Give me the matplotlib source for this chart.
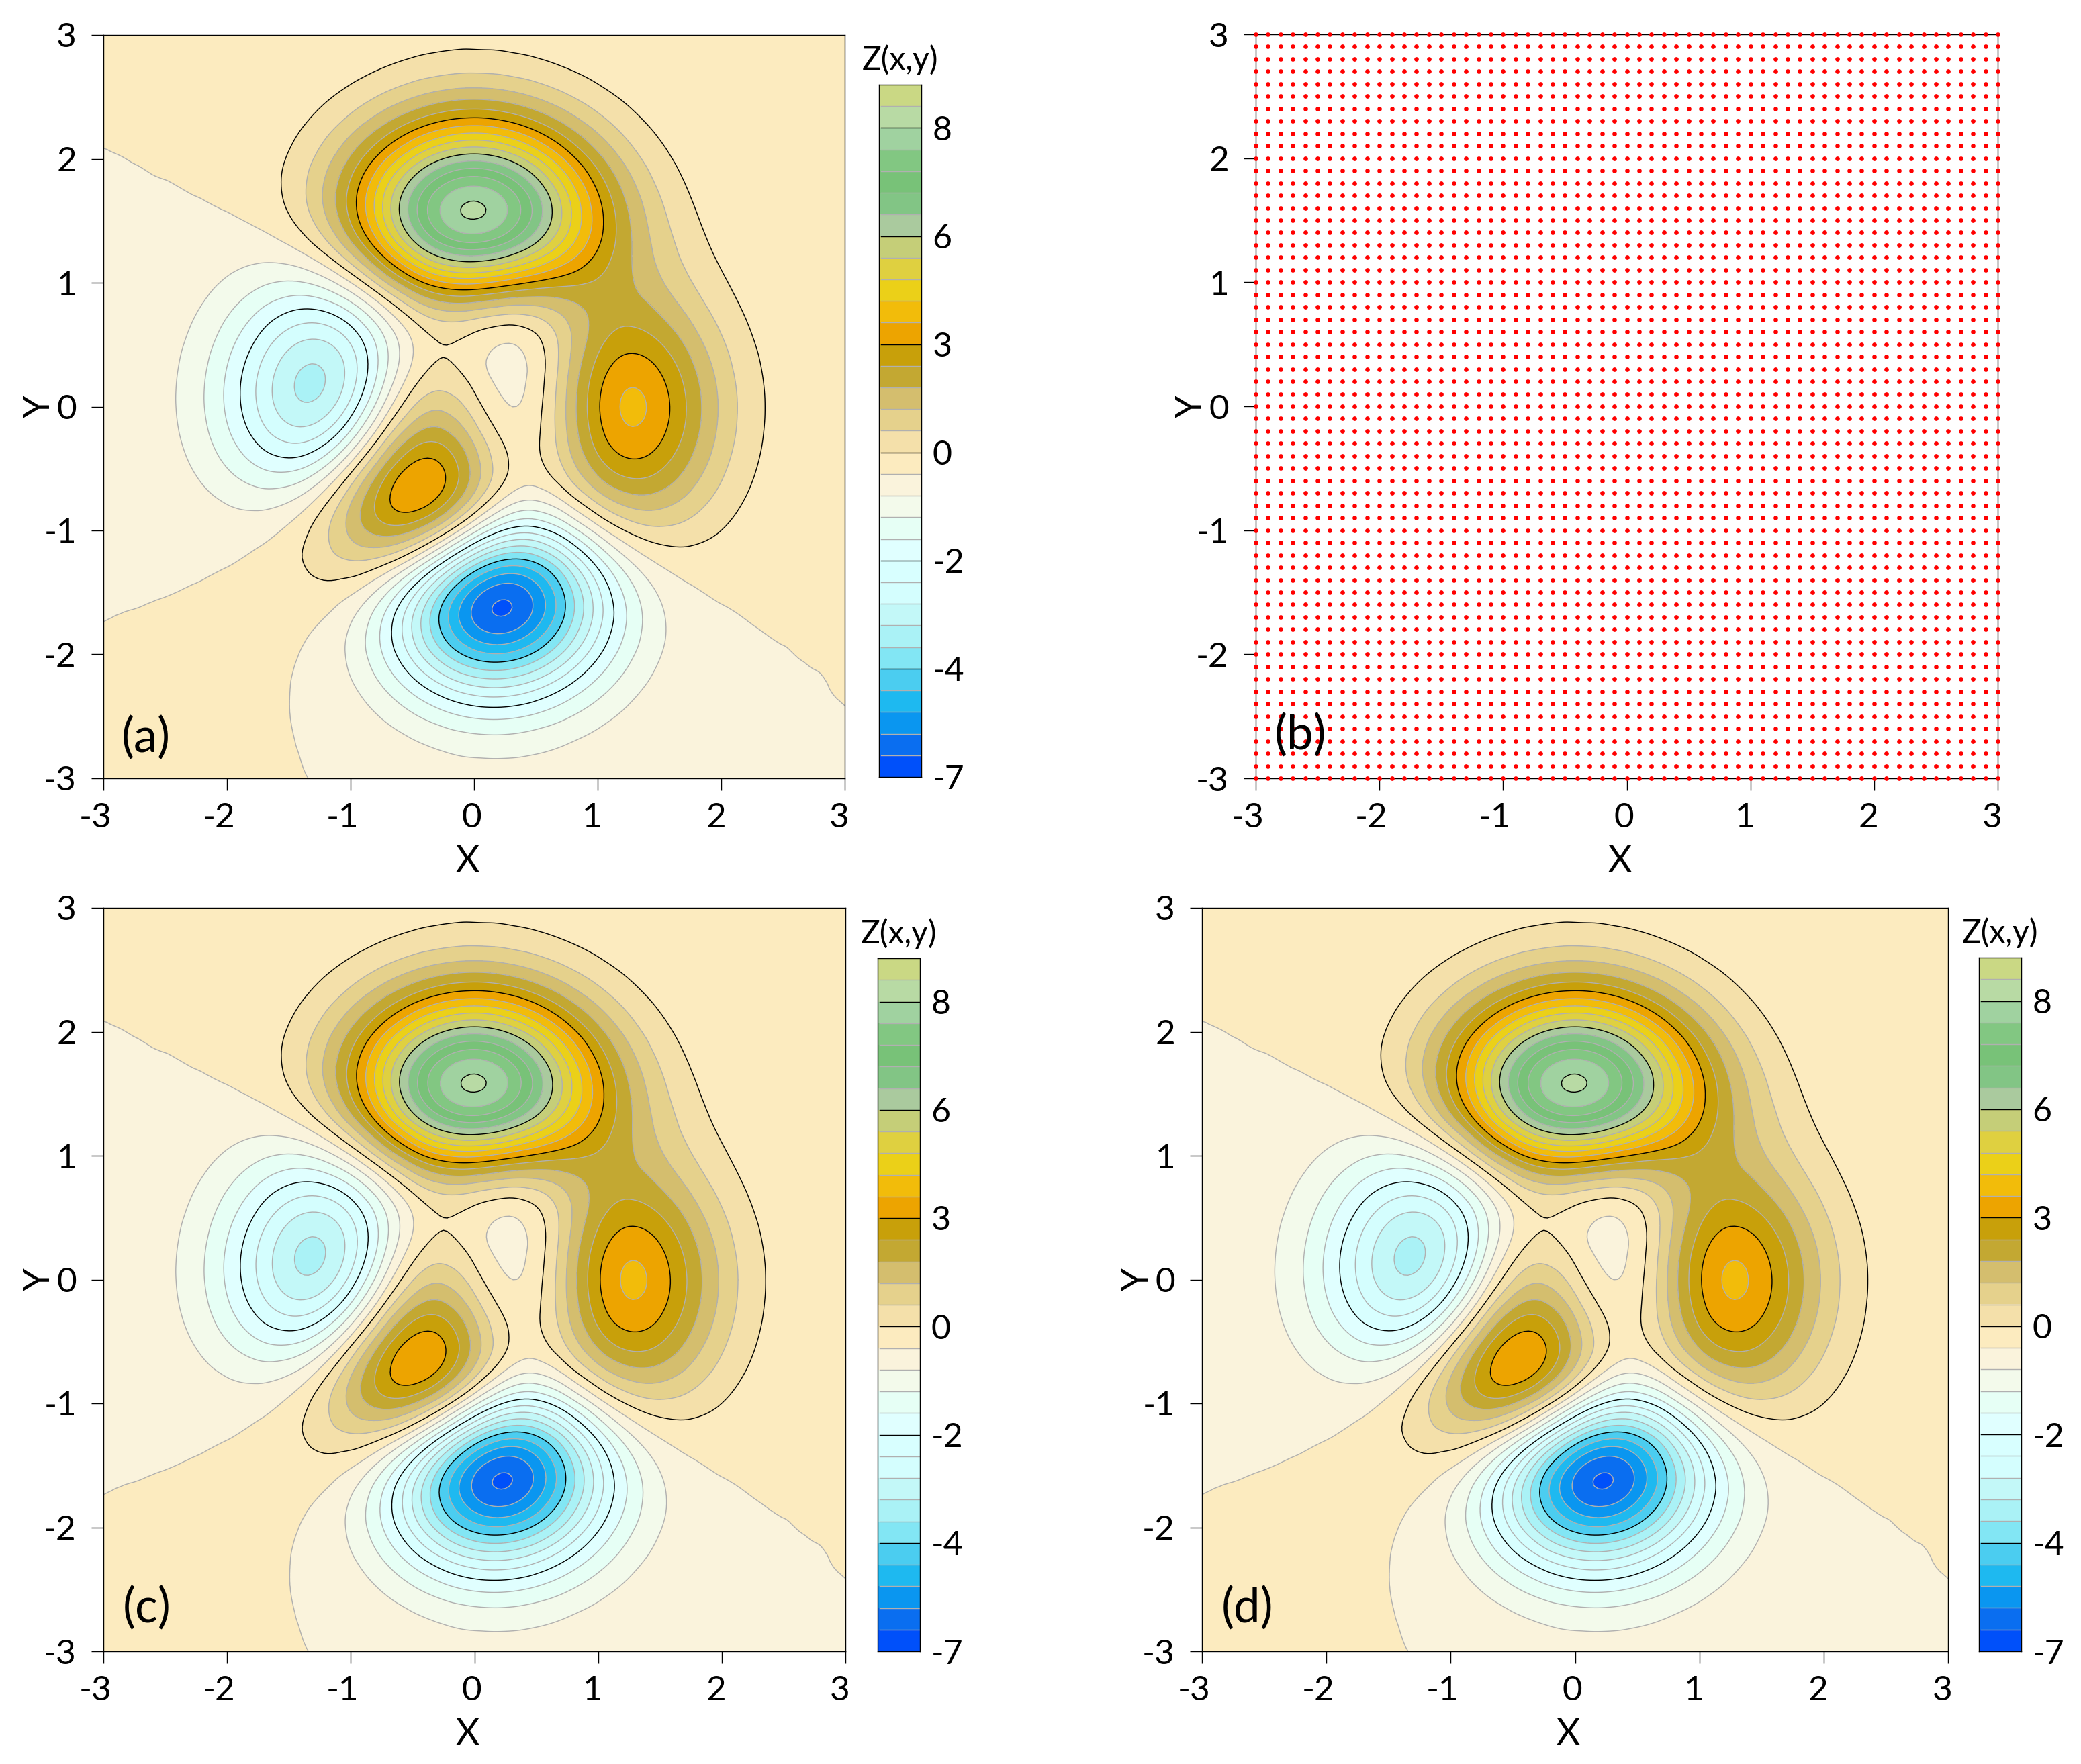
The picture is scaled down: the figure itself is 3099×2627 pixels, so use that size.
# -*- coding: utf-8 -*-
import numpy as np
import matplotlib
matplotlib.use('Agg')
import matplotlib.pyplot as plt
import matplotlib.tri as mtri
from matplotlib.colors import ListedColormap, BoundaryNorm
from matplotlib.transforms import ScaledTranslation

plt.rcParams['font.family'] = ['Lato', 'DejaVu Sans']

'''
1.The data, values of Z on a grid with a 0.25 step
'''
grid_x = [-3, -2.75, -2.5, -2.25, -2, -1.75, -1.5, -1.25, -1, -0.75, -0.5, -0.25, 0,
          0.25, 0.5, 0.75, 1, 1.25, 1.5, 1.75, 2, 2.25, 2.5, 2.75, 3]
grid_y = grid_x

# one row per y, from y=-3 up to y=3
z_rows = [
    [.00007, .00023, .00067, .00167, .00337, .0051, .0042, -.00492, -.0296, -.07478, -.13667, -.20025, -.24409, -.25191, -.22215, -.16822, -.10964, -.06151, -.02966, -.01224, -.0043, -.00126, -.0003, -.00006, -.00001],
    [.00015, .00052, .00153, .00374, .00722, .00984, .00411, -.02493, -.0965, -.22256, -.3917, -.56263, -.67788, -.69457, -.6097, -.46032, -.29942, -.16775, -.08084, -.03335, -.0117, -.00343, -.00082, -.00016, -.00001],
    [.0003, .00104, .00307, .00747, .01421, .01805, .00183, -.06831, -.23576, -.5271, -.91583, -1.30716, -1.56951, -1.60474, -1.4063, -1.05991, -.68784, -.38408, -.18409, -.07532, -.02604, -.00746, -.00171, -.00027, -.00001],
    [.00046, .00173, .0053, .01323, .02564, .0332, .0039, -.12663, -.44278, -.99883, -1.7477, -2.50844, -3.02453, -3.1009, -2.7204, -2.04845, -1.32469, -.73445, -.34774, -.13939, -.04655, -.0125, -.00248, -.00022, .00007],
    [.00052, .00223, .00749, .02016, .04233, .06281, .03547, -.14026, -.60458, -1.45979, -2.64911, -3.89142, -4.76504, -4.9334, -4.34881, -3.27337, -2.10305, -1.14893, -.52941, -.20223, -.06166, -.01349, -.00118, .00065, .00043],
    [.00004, .00138, .00702, .02352, .0589, .10937, .12895, -.00591, -.49236, -1.5067, -3.02738, -4.71261, -5.9828, -6.33168, -5.64029, -4.24213, -2.68684, -1.41962, -.61241, -.20444, -.04417, .00073, .00625, .00367, .00143],
    [-.00175, -.00313, -.0021, .01047, .05308, .14494, .27157, .32601, .07818, -.74591, -2.24195, -4.11591, -5.70636, -6.34069, -5.76918, -4.31921, -2.6364, -1.2714, -.44065, -.06599, .04291, .04545, .02544, .01068, .00362],
    [-.0059, -.01464, -.029, -.04115, -.02141, .08698, .33939, .70417, .96761, .75122, -.24759, -1.92489, -3.65589, -4.63202, -4.41454, -3.2299, -1.74043, -.55692, .0789, .26596, .22622, .13256, .06104, .02325, .00743],
    [-.01324, -.03596, -.08233, -.15461, -.22023, -.18269, .10921, .75295, 1.61102, 2.2233, 2.03365, .85615, -.81431, -2.06699, -2.24822, -1.43697, -.27748, .5793, .88286, .76869, .49969, .26118, .11329, .04163, .01302],
    [-.02359, -.06679, -.16233, -.3342, -.56288, -.72624, -.57696, .13739, 1.40356, 2.72961, 3.33079, 2.72548, 1.25662, -.0846, -.4533, .18569, 1.16914, 1.7842, 1.77723, 1.34574, .82001, .41392, .17592, .06381, .01976],
    [-.03502, -.10151, -.25459, -.54795, -.9898, -1.45356, -1.61767, -1.08386, .27835, 2.00052, 3.14643, 3.0082, 1.80656, .59096, .33496, 1.11411, 2.18827, 2.75508, 2.55827, 1.87454, 1.1224, .5609, .23699, .08562, .02645],
    [-.04438, -.13039, -.33275, -.73329, -1.37151, -2.13215, -2.65163, -2.4242, -1.19138, .64026, 2.07379, 2.26838, 1.35472, .39419, .40966, 1.46643, 2.74417, 3.3683, 3.08656, 2.24523, 1.33874, .66738, .2816, .10166, .03138],
    [-.04865, -.14402, -.37112, -.8284, -1.57784, -2.52246, -3.29323, -3.33817, -2.31832, -.56224, .96055, 1.37306, .7359, .05052, .30429, 1.54111, 2.92478, 3.57826, 3.26782, 2.37169, 1.41215, .70342, .29668, .10707, .03305],
    [-.0465, -.13827, -.35825, -.80542, -1.54932, -2.51346, -3.36144, -3.56687, -2.77493, -1.23492, .1945, .69964, .29246, -.1595, .21355, 1.43843, 2.75091, 3.35799, 3.06001, 2.21767, 1.31927, .65681, .27695, .09993, .03084],
    [-.03893, -.116, -.3014, -.67996, -1.31394, -2.14528, -2.89701, -3.12525, -2.51561, -1.24735, -.01451, .50052, .27316, -.01908, .32075, 1.31957, 2.36737, 2.83065, 2.5563, 1.84417, 1.09429, .54398, .22917, .08265, .0255],
    [-.02851, -.08494, -.22039, -.49614, -.95484, -1.54686, -2.05579, -2.13709, -1.5426, -.40257, .74411, 1.33537, 1.28273, 1.04072, 1.1312, 1.6311, 2.16394, 2.31588, 1.99162, 1.40177, .82045, .40453, .16954, .06092, .01876],
    [-.01815, -.05364, -.13773, -.30496, -.57097, -.88011, -1.05506, -.82951, -.0161, 1.27678, 2.60337, 3.44591, 3.59865, 3.28915, 2.90879, 2.65077, 2.42953, 2.08296, 1.58074, 1.03538, .5805, .2786, .11473, .04074, .01243],
    [-.00982, -.02841, -.07045, -.14734, -.24853, -.30462, -.15587, .41583, 1.55505, 3.15662, 4.81122, 5.98548, 6.3389, 5.90774, 5.00442, 3.96047, 2.96651, 2.08803, 1.35357, .79072, .40928, .18583, .07361, .02543, .00761],
    [-.00437, -.01183, -.02628, -.04403, -.0379, .06939, .42371, 1.20851, 2.53764, 4.30853, 6.14105, 7.50145, 7.97103, 7.46589, 6.24405, 4.71918, 3.25294, 2.05335, 1.18514, .62141, .29345, .12372, .04625, .01527, .00441],
    [-.00144, -.00311, -.00372, .00648, .05856, .22328, .62196, 1.39944, 2.64153, 4.25956, 5.93449, 7.20065, 7.65936, 7.18581, 5.98177, 4.44352, 2.96042, 1.77537, .96046, .46856, .20574, .08099, .02847, .00891, .00246],
    [-.00021, .00027, .00404, .0206, .07521, .22094, .54444, 1.14646, 2.08494, 3.29523, 4.54815, 5.50278, 5.85563, 5.49719, 4.56703, 3.36769, 2.21021, 1.29397, .67719, .31708, .13289, .0498, .01666, .00498, .00132],
    [.00013, .00093, .00454, .0174, .05575, .15233, .35937, .73671, 1.31824, 2.06459, 2.83723, 3.42819, 3.64867, 3.42638, 2.84397, 2.08984, 1.36171, .78781, .40532, .18559, .0757, .02749, .0089, .00257, .00066],
    [.00014, .00069, .00288, .01019, .03114, .08254, .19092, .3864, .68588, 1.06927, 1.46616, 1.7703, 1.88429, 1.76974, 1.46822, 1.07697, .69914, .40198, .20493, .09268, .03722, .01327, .0042, .00118, .00029],
    [.00007, .00035, .00137, .00471, .01407, .03674, .08413, .1691, .29889, .4648, .63655, .7683, .81781, .76816, .6371, .46688, .30246, .17331, .0879, .03948, .01571, .00554, .00173, .00048, .00012],
    [.00003, .00015, .00053, .00178, .00526, .01362, .03102, .06211, .10952, .17006, .23274, .28085, .29895, .28081, .23287, .17056, .11036, .06311, .03191, .01427, .00565, .00198, .00062, .00017, .00004],
]

# contour levels, one box of the colour bar per interval
levels = [-7, -6.5, -6, -5.5, -5, -4.5, -4, -3.5, -3, -2.5, -2, -1.5, -1, -0.5, 0, 0.5,
          1, 1.5, 2, 2.5, 3, 3.5, 4, 4.5, 5, 5.5, 6, 6.5, 7, 7.5, 8, 8.5, 9]
black_levels = [-4.5, -2, 0.5, 3, 5.5, 8]
level_colors = ['#0050FA', '#0A6EF0', '#0A96F0', '#1EB9F0', '#4BCDF0', '#82E6F4', '#AAF2F6', '#C3F8F8',
                '#D4FEFE', '#D8FFFF', '#E0FFFF', '#E6FFF5', '#F3FAEB', '#FAF3DC', '#FCEBBF', '#F4E0AA',
                '#E5D18C', '#D4BE6E', '#C3A832', '#C8A00A', '#EDA400', '#F2BC0A', '#EBD018', '#DFD040',
                '#C5CE78', '#AACA9E', '#82C585', '#78C278', '#82C782', '#A0D2A0', '#B8DAA4', '#CAD884']
bar_ticks = [0, 5, 10, 15, 20, 25, 30]
bar_labels = ['-7', '-4', '-2', '0', '3', '6', '8']
axis_ticks = [-3, -2, -1, 0, 1, 2, 3]
n_samples = 61   # sample points per axis in panel (b)

W, H = 3099, 2627
DPI = 300
GRAY = '#B0B0B0'
LW = 0.34

'''
2.Smooth the table for drawing
'''
X, Y = np.meshgrid(grid_x, grid_y)
Z = np.array(z_rows)
tri = mtri.Triangulation(X.ravel(), Y.ravel())
interp = mtri.CubicTriInterpolator(tri, Z.ravel(), kind='min_E')
refiner = mtri.UniformTriRefiner(tri)
tri_fine, z_fine = refiner.refine_field(Z.ravel(), triinterpolator=interp, subdiv=3)

cmap = ListedColormap(level_colors)
norm = BoundaryNorm(levels, cmap.N)
line_colors = ['k' if v in black_levels else GRAY for v in levels]

fig = plt.figure(figsize=(W / DPI, H / DPI), dpi=DPI)


def add_px_axes(left, right, top, bottom):
    return fig.add_axes([left / W, 1 - bottom / H, (right - left) / W, (bottom - top) / H])


def style_axes(ax):
    ax.set_xlim(-3, 3)
    ax.set_ylim(-3, 3)
    ax.set_xticks(axis_ticks)
    ax.set_yticks(axis_ticks)
    ax.set_xticklabels([str(v) for v in axis_ticks])
    ax.set_yticklabels([str(v) for v in axis_ticks])
    ax.tick_params(length=4.3, width=LW, labelsize=12.3)
    ax.tick_params(axis='x', pad=4.3)
    ax.tick_params(axis='y', pad=5.3)
    for s in ax.spines.values():
        s.set_linewidth(LW)
    # the x labels sit a little left of their ticks, the minus signs hang out further
    for lab, v in zip(ax.get_xticklabels(), axis_ticks):
        px_shift = -12 if v < 0 else (-4 if v == 0 else -8)
        shift = ScaledTranslation(px_shift / DPI, 0, fig.dpi_scale_trans)
        lab.set_transform(lab.get_transform() + shift)
    w = ax.get_position().width * W
    h = ax.get_position().height * H
    ax.set_xlabel('X', fontsize=13, va='center')
    ax.set_ylabel('Y', fontsize=13, va='center')
    ax.xaxis.set_label_coords(0.5 - 10 / w, -124 / h)
    ax.yaxis.set_label_coords(-96 / w, 0.5)


def draw_contour(left, right, top, bottom, name, name_px):
    ax = add_px_axes(left, right, top, bottom)
    ax.tricontourf(tri_fine, z_fine, levels=levels, cmap=cmap, norm=norm)
    ax.tricontour(tri_fine, z_fine, levels=levels[1:-1], colors=line_colors[1:-1], linewidths=LW)
    style_axes(ax)
    fig.text(name_px[0] / W, 1 - name_px[1] / H, name, fontsize=17, ha='center', va='center')
    return ax


def draw_bar(left, right, top, bottom):
    ax = add_px_axes(left, right, top, bottom)
    for i, c in enumerate(level_colors):
        ax.axhspan(i, i + 1, color=c, lw=0)
    for i, c in enumerate(line_colors):
        if 0 < i < len(level_colors):
            ax.plot([0.04, 0.98], [i, i], color=c, lw=LW)
    ax.set_xlim(0, 1)
    ax.set_ylim(0, len(level_colors))
    ax.set_xticks([])
    ax.yaxis.tick_right()
    ax.set_yticks(bar_ticks)
    ax.set_yticklabels(bar_labels)
    ax.tick_params(length=0, pad=4.0, labelsize=12)
    for s in ax.spines.values():
        s.set_linewidth(LW)
    fig.text((left + right) / 2 / W, 1 - (top - 37) / H, 'Z(x,y)', fontsize=11.5, ha='center', va='center')


'''
3.Draw the four panels
'''
draw_contour(154, 1258, 52, 1159, '(a)', (217, 1099))
draw_bar(1309, 1372, 126, 1157)

ax_b = add_px_axes(1870, 2975, 51, 1159)
samples = np.linspace(-3, 3, n_samples)
px, py = np.meshgrid(samples, samples)
ax_b.scatter(px.ravel(), py.ravel(), s=2.6, c='#FF0000', linewidths=0, clip_on=False, zorder=3)
style_axes(ax_b)
fig.text(1937 / W, 1 - 1095 / H, '(b)', fontsize=17, ha='center', va='center', zorder=10)

draw_contour(154, 1259, 1352, 2459, '(c)', (219, 2395))
draw_bar(1307, 1370, 1427, 2459)

draw_contour(1790, 2901, 1352, 2459, '(d)', (1858, 2395))
draw_bar(2947, 3010, 1426, 2459)

plt.savefig('out.png', dpi=DPI)
